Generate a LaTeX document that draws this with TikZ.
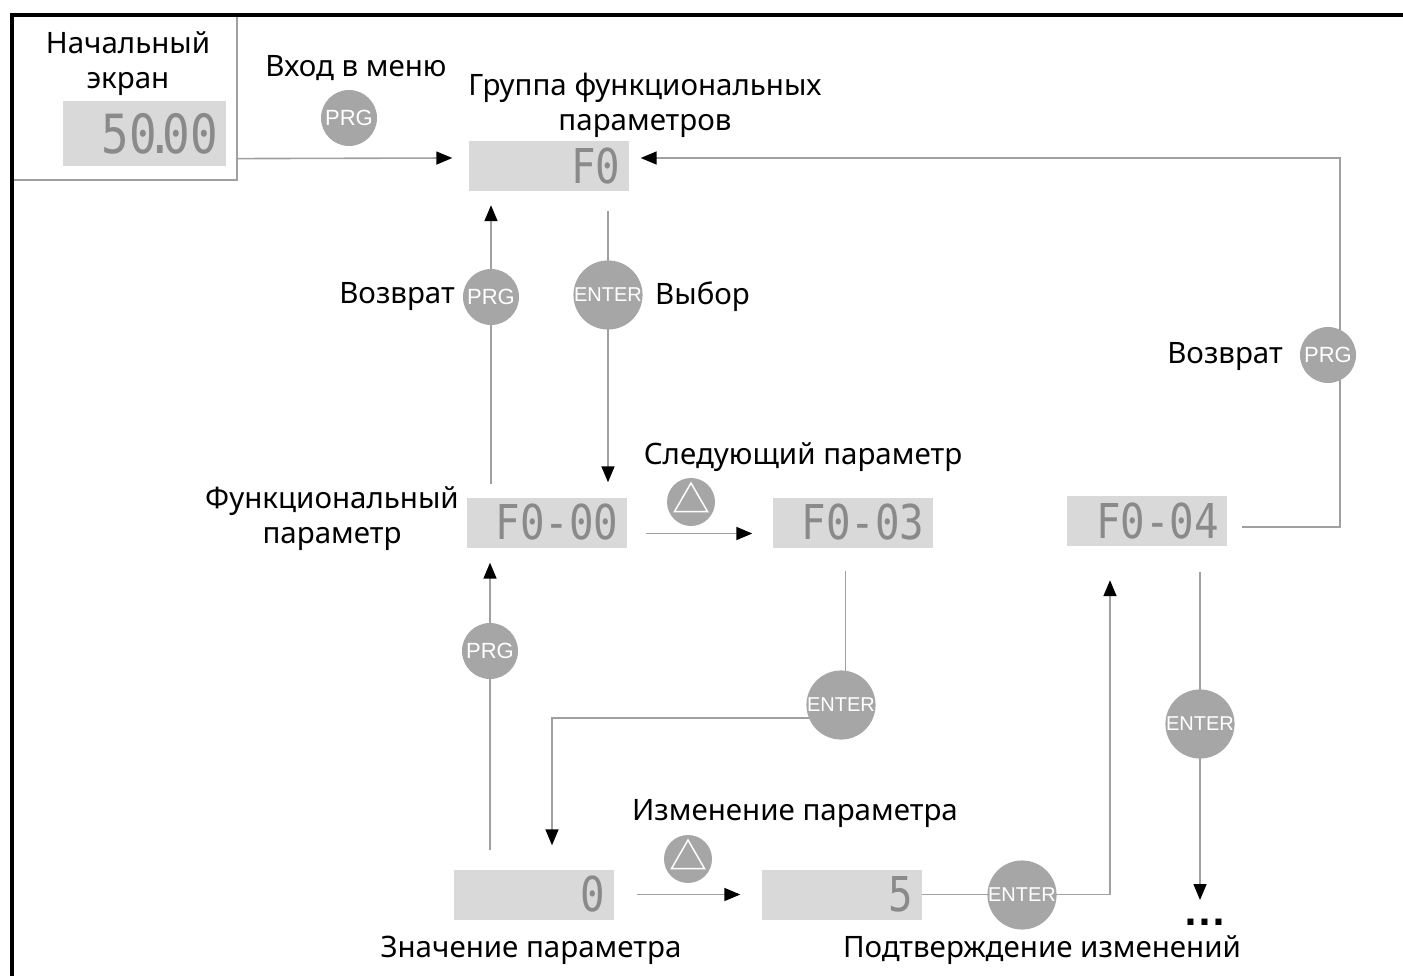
\documentclass[tikz,border=0pt]{standalone}
\usepackage{fontspec}
\setmainfont{Noto Sans}
\newfontfamily\keyfont{Liberation Sans}
\newfontfamily\dotfont{DejaVu Sans}
\newfontfamily\lcdfont[FakeStretch=0.85]{DejaVu Sans Mono}
\usetikzlibrary{arrows.meta,calc,shapes.geometric,backgrounds}
\definecolor{lcdgray}{HTML}{D9D9D9}
\definecolor{keygray}{HTML}{A6A6A6}
\definecolor{linegray}{HTML}{A0A0A0}
\definecolor{digitgray}{HTML}{8A8A8A}

\begin{document}
\begin{tikzpicture}[x=1pt,y=-1pt,
    lcd/.style={fill=lcdgray,minimum height=50pt,text width=144pt,align=right,
      inner xsep=8pt,inner ysep=0pt,text=digitgray,
      font=\lcdfont\fontsize{48}{48}\selectfont},
    key/.style={circle,fill=keygray,text=white,inner sep=0pt,minimum size=56pt,
      font=\keyfont\fontsize{22}{22}\selectfont},
    enterkey/.style={key,minimum size=68pt,font=\keyfont\fontsize{20}{20}\selectfont},
    upkey/.style={key,minimum size=48pt},
    uptri/.style={regular polygon,regular polygon sides=3,draw=white,
      line width=1.5pt,minimum size=38pt,inner sep=0pt},
    flow/.style={draw=linegray,line width=1.6pt,-{Triangle[length=16pt,width=13pt,black]}},
    lbl/.style={font=\fontsize{29.5}{35}\selectfont,align=center,inner sep=0pt}]

      \useasboundingbox (0,0) rectangle (1403,976);

      \node[draw=linegray,line width=1.2pt,minimum width=225pt,minimum height=165pt,
        inner sep=0pt] (start) at (124.5,97.5) {};
      \draw[line width=4pt] (12,980) -- (12,15) -- (1410,15);

      \begin{scope}[every node/.style={lcd}]
        \node[minimum height=65pt,text width=147pt,
          font=\lcdfont\fontsize{54}{54}\selectfont] (d50) at (144.5,133.5)
          {50\kern-11pt.\kern-11pt00};
        \node (dF0)   at (548.5,166)   {F0};
        \node (dF000) at (546.5,522.5) {F0-00};
        \node (dF003) at (852.5,522.5) {F0-03};
        \node (dF004) at (1147,521)    {F0-04};
        \node (d0)    at (533.5,894.5) {0};
        \node (d5)    at (841.5,894.5) {5};
      \end{scope}

      \begin{scope}[every node/.style={lbl}]
        \node (lstart) at (128,64)  {Начальный\\экран};
        \node (lmenu)  at (356,68)  {Вход в меню};
        \node (lgroup) at (645,105) {Группа функциональных\\параметров};
        \node[anchor=east] (lback) at (455,297) {Возврат};
        \node[anchor=west] (lsel)  at (655,297) {Выбор};
        \node (lpar)   at (332,519) {Функциональный\\параметр};
        \node (lnext)  at (803,457) {Следующий параметр};
        \node[anchor=east] (lret) at (1283,357) {Возврат};
        \node (lchg)   at (795,814) {Изменение параметра};
        \node (lval)   at (531,950) {Значение параметра};
        \node (lconf)  at (1042,950) {Подтверждение изменений};
        \node[anchor=base,font=\dotfont\bfseries\fontsize{34}{34}\selectfont] (dots)
          at (1205,925) {.\hspace{1pt}.\hspace{1pt}.};
      \end{scope}

      \node[key] (kmenu) at (349,118) {PRG};
      \node[key] (kback) at (491,297) {PRG};
      \node[enterkey] (ksel) at (608,295) {ENTER};
      \node[upkey] (knext) at (691,502) {};
      \node[uptri] at (knext) {};
      \node[key] (kret) at (1328,355) {PRG};
      \node[enterkey] (kset) at (841,705) {ENTER};
      \node[key] (kesc) at (490,651) {PRG};
      \node[upkey] (kchg) at (688,859) {};
      \node[uptri] at (kchg) {};
      \node[enterkey] (kok) at (1022,895) {ENTER};
      \node[enterkey] (kmore) at (1200,724) {ENTER};

      \coordinate (cornerTR) at (1340,158);
      \coordinate (cornerBL) at (552,718);

      \begin{pgfonlayer}{background}
        \path[flow] ($(start.south east)+(0,-22)$) -- ($(dF0.west)+(-16,-8)$);
        \path[flow] ($(dF004.east)+(15,6)$) -| (cornerTR) -- ($(dF0.east)+(12,-8)$);
        \path[flow] ($(dF0.south -| ksel)+(0,20)$) -- ($(dF000.north -| ksel)+(0,-15)$);
        \path[flow] ($(dF000.north -| kback)+(0,-13)$) -- ($(dF0.south -| kback)+(0,14)$);
        \path[flow] ($(dF000.east)+(19,11)$) -- ($(dF003.west)+(-20,11)$);
        \path[flow] ($(dF003.south)+(-7,23)$) |- (cornerBL)
          -- ($(d0.north -| cornerBL)+(0,-24)$);
        \path[flow] ($(d0.north -| kesc)+(0,-19)$) -- ($(dF000.south -| kesc)+(0,15)$);
        \path[flow] ($(d0.east)+(23,0)$) -- ($(d5.west)+(-21,0)$);
        \path[flow] (d5.east) -| ($(dF004.south)+(-37,34)$);
        \path[flow] ($(dF004.south -| kmore)+(0,26)$) -- ($(dots.base -| kmore)+(0,-25)$);
      \end{pgfonlayer}

    \end{tikzpicture}
\end{document}
